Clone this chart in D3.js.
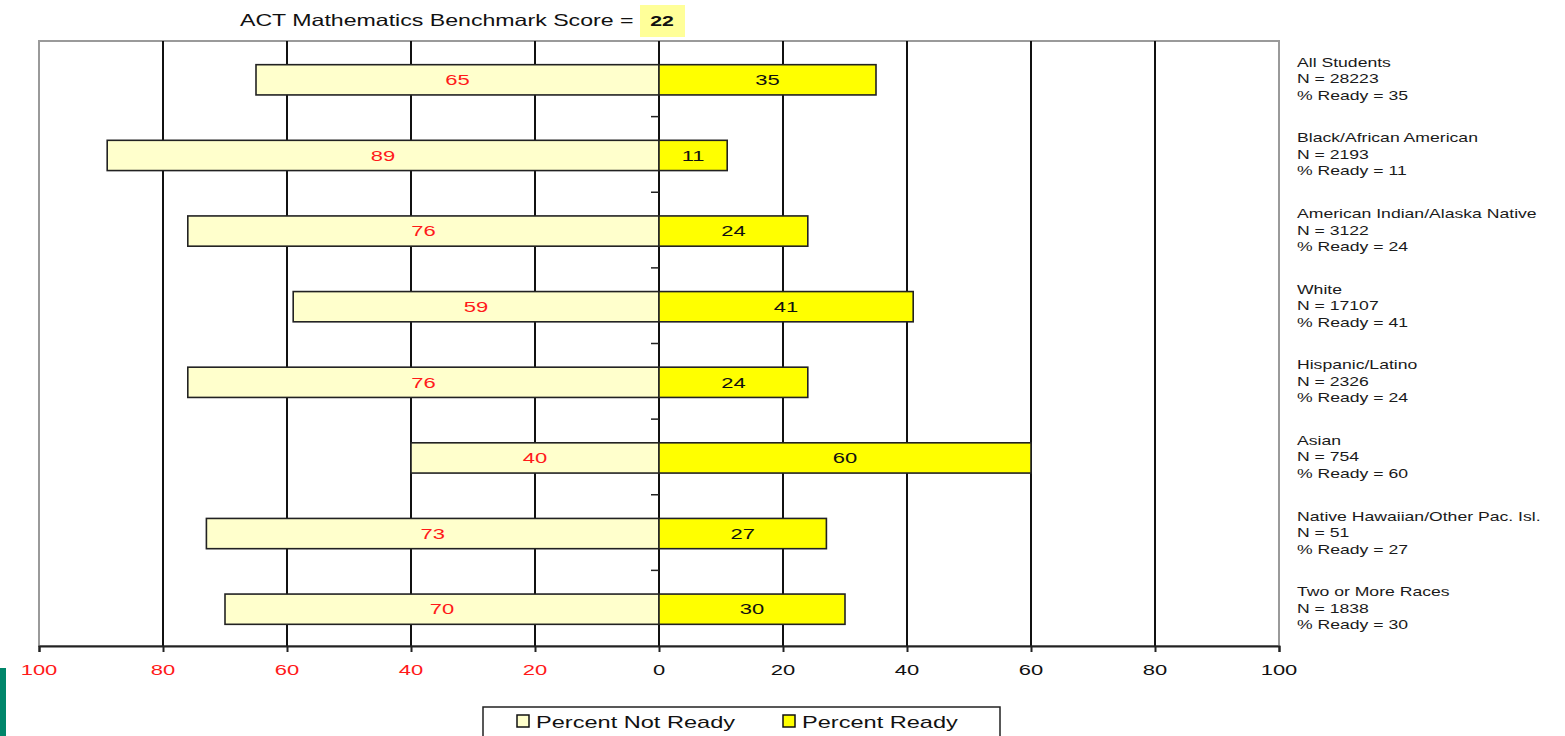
<!DOCTYPE html>
<html><head><meta charset="utf-8">
<script src="https://cdn.jsdelivr.net/npm/d3@7"></script>
<style>html,body{margin:0;padding:0;background:#fff;overflow:hidden}svg{display:block}</style>
</head><body>
<svg id="c" width="1565" height="736"></svg>
<script>
const categories = ["All Students","Black/African American","American Indian/Alaska Native","White","Hispanic/Latino","Asian","Native Hawaiian/Other Pac. Isl.","Two or More Races"];
const nValues = [28223,2193,3122,17107,2326,754,51,1838];
const notReady = [65,89,76,59,76,40,73,70];
const ready = [35,11,24,41,24,60,27,30];
const tickValues = [-100,-80,-60,-40,-20,0,20,40,60,80,100];
const benchmark = 22;
const seriesNames = ["Percent Not Ready","Percent Ready"];

const SX = 1.42; // horizontal text stretch seen in the reference
const FONT = "Arial, 'Liberation Sans', sans-serif";
const svg = d3.select("#c");
const L = 39, R = 1279, T = 41, B = 646;
const x = d3.scaleLinear().domain([-100,100]).range([L,R]);
const y = d3.scaleBand().domain(categories).range([T,B]).paddingInner(0.6).paddingOuter(0.3);

function stext(g, tx, ty, str, opts){
  const grp = g.append("g").attr("transform",`translate(${tx},${ty}) scale(${SX},1)`);
  const t = grp.append("text").attr("x",0).attr("y",0)
    .attr("font-family",FONT).attr("font-size",opts.size||14)
    .attr("fill",opts.fill||"#000").attr("text-anchor",opts.anchor||"start")
    .attr("dominant-baseline","central").attr("font-weight",opts.weight||"normal").text(str);
  return t;
}

// green edge element
svg.append("rect").attr("x",0).attr("y",668).attr("width",6).attr("height",68).attr("fill","#00866a");

// plot border (gray)
svg.append("rect").attr("x",L).attr("y",T).attr("width",R-L).attr("height",B-T)
  .attr("fill","none").attr("stroke","#9a9a9a").attr("stroke-width",2);

// vertical gridlines
svg.append("g").selectAll("line").data(tickValues.filter(v=>Math.abs(v)<100)).join("line")
  .attr("x1",d=>x(d)).attr("x2",d=>x(d)).attr("y1",T).attr("y2",B)
  .attr("stroke","#111").attr("stroke-width",2);

// bottom axis
const axisG = svg.append("g").attr("transform",`translate(0,${B})`)
  .call(d3.axisBottom(x).tickValues(tickValues).tickSize(6).tickFormat(""));
axisG.select(".domain").attr("stroke","#222").attr("stroke-width",2);
axisG.selectAll(".tick line").attr("stroke","#222").attr("stroke-width",2);
tickValues.forEach(v=>{
  stext(svg, x(v), 670, String(Math.abs(v)), {size:15.5, anchor:"middle", fill: v<0 ? "#ff1a1a" : "#111"});
});

// small ticks on zero line at category boundaries
const bounds = categories.slice(1).map(c => y(c) - y.step()*y.paddingInner()/2);
svg.append("g").selectAll("line").data(bounds).join("line")
  .attr("x1",x(0)-8).attr("x2",x(0)).attr("y1",d=>d).attr("y2",d=>d)
  .attr("stroke","#222").attr("stroke-width",1.5);

// bars
const rows = categories.map((c,i)=>({c, n:nValues[i], nr:notReady[i], r:ready[i]}));
const bars = svg.append("g");
bars.selectAll("rect.nr").data(rows).join("rect").attr("class","nr")
  .attr("x",d=>x(-d.nr)).attr("width",d=>x(0)-x(-d.nr))
  .attr("y",d=>y(d.c)+1).attr("height",y.bandwidth())
  .attr("fill","#ffffcc").attr("stroke","#222").attr("stroke-width",1.6);
bars.selectAll("rect.r").data(rows).join("rect").attr("class","r")
  .attr("x",x(0)).attr("width",d=>x(d.r)-x(0))
  .attr("y",d=>y(d.c)+1).attr("height",y.bandwidth())
  .attr("fill","#ffff00").attr("stroke","#222").attr("stroke-width",1.6);
rows.forEach(d=>{
  const cy = y(d.c)+1+y.bandwidth()/2;
  stext(svg, (x(-d.nr)+x(0))/2, cy, String(d.nr), {size:15.5, anchor:"middle", fill:"#ff1a1a"});
  stext(svg, (x(d.r)+x(0))/2, cy, String(d.r), {size:15.5, anchor:"middle", fill:"#111"});
});

// right-side labels
rows.forEach(d=>{
  const cy = y(d.c)+y.bandwidth()/2;
  stext(svg, 1297, cy-16.5, d.c, {size:12.4, fill:"#1a1a1a"});
  stext(svg, 1297, cy, "N = "+d.n, {size:12.4, fill:"#1a1a1a"});
  stext(svg, 1297, cy+16.5, "% Ready = "+d.r, {size:12.4, fill:"#1a1a1a"});
});

// title
stext(svg, 240, 20, "ACT Mathematics Benchmark Score =", {size:16.3, fill:"#111"});
svg.append("rect").attr("x",640).attr("y",5).attr("width",45).attr("height",32).attr("fill","#ffff99");
stext(svg, 662, 21, String(benchmark), {size:15, anchor:"middle", fill:"#111", weight:"bold"});

// legend
svg.append("rect").attr("x",483).attr("y",707).attr("width",517).attr("height",40)
  .attr("fill","#fff").attr("stroke","#222").attr("stroke-width",1.5);
const legendX = [517, 783];
const legendFill = ["#ffffcc","#ffff00"];
seriesNames.forEach((s,i)=>{
  svg.append("rect").attr("x",legendX[i]).attr("y",715).attr("width",12).attr("height",12)
    .attr("fill",legendFill[i]).attr("stroke","#111").attr("stroke-width",1.5);
  stext(svg, legendX[i]+19, 722, s, {size:16.6, fill:"#111"});
});
</script>
</body></html>
